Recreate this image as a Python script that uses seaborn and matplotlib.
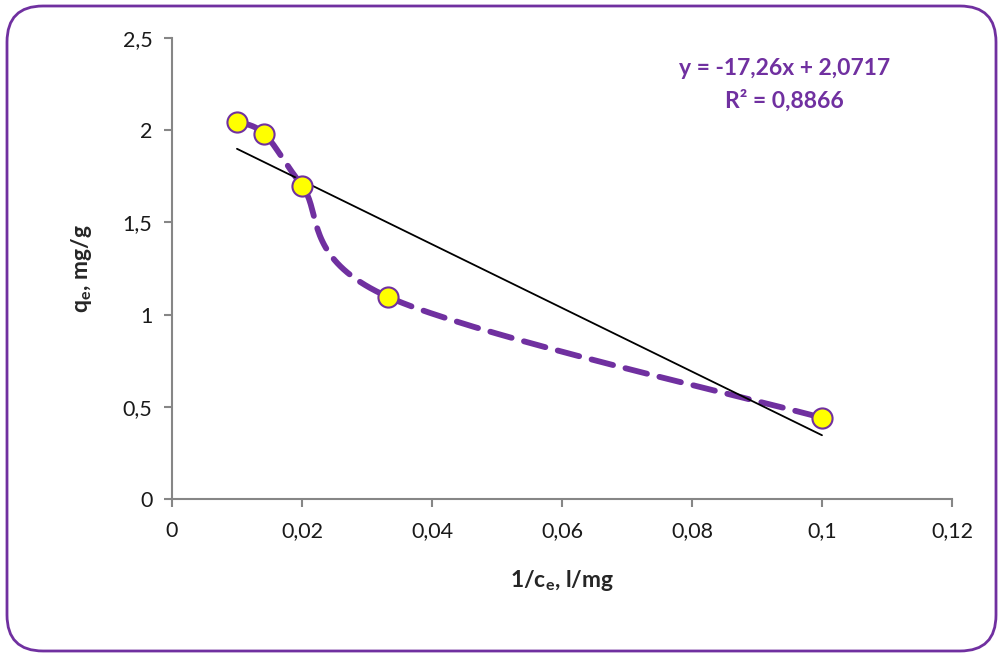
import numpy as np
import pandas as pd
import matplotlib
matplotlib.use("Agg")
import matplotlib.pyplot as plt
from matplotlib.patches import FancyBboxPatch
from matplotlib.transforms import IdentityTransform
import seaborn as sns

# data
inv_ce = [0.0100, 0.0142, 0.0200, 0.0333, 0.1000]
qe = [2.045, 1.980, 1.700, 1.095, 0.440]
slope = -17.26
intercept = 2.0717
r2 = 0.8866
x_ticks = [0, 0.02, 0.04, 0.06, 0.08, 0.1, 0.12]
y_ticks = [0, 0.5, 1, 1.5, 2, 2.5]

purple = "#7030A0"
gray = "#868686"

sns.set_style("white")
plt.rcParams['font.family'] = ['Lato', 'DejaVu Sans']
plt.rcParams['mathtext.fontset'] = 'custom'
plt.rcParams['mathtext.rm'] = 'Lato:bold'
plt.rcParams['mathtext.it'] = 'Lato:bold'
plt.rcParams['mathtext.bf'] = 'Lato:bold'


def smooth_curve(xs, ys, sx, sy, n=40):
    # Catmull-Rom style smoothing like Excel's "smoothed line"
    px = np.array(xs) / sx
    py = np.array(ys) / sy
    px = np.concatenate([[px[0]], px, [px[-1]]])
    py = np.concatenate([[py[0]], py, [py[-1]]])
    outx, outy = [], []
    for i in range(1, len(px) - 2):
        t = np.linspace(0, 1, n)
        for arr, out in ((px, outx), (py, outy)):
            p0, p1, p2, p3 = arr[i - 1], arr[i], arr[i + 1], arr[i + 2]
            v = 0.5 * ((2 * p1) + (-p0 + p2) * t
                       + (2 * p0 - 5 * p1 + 4 * p2 - p3) * t ** 2
                       + (-p0 + 3 * p1 - 3 * p2 + p3) * t ** 3)
            out.extend(v)
    return np.array(outx) * sx, np.array(outy) * sy


fig = plt.figure(figsize=(9.98, 6.55), dpi=100)
ax = fig.add_axes([0.1723, 0.2382, 0.7816, 0.7038])

# smoothed dashed line through the points
cx, cy = smooth_curve(inv_ce, qe, 0.12 / 780, 2.5 / 461)
curve = pd.DataFrame({"x": cx, "y": cy})
sns.lineplot(data=curve, x="x", y="y", sort=False, ax=ax, color=purple,
             linewidth=4.2, dashes=False, zorder=2)
ax.lines[-1].set_dashes([3.8, 2.2])
ax.lines[-1].set_dash_capstyle("round")

# linear trendline
tx = np.array([min(inv_ce), max(inv_ce)])
trend = pd.DataFrame({"x": tx, "y": slope * tx + intercept})
sns.lineplot(data=trend, x="x", y="y", ax=ax, color="black", linewidth=1.3, zorder=3)

# points
pts = pd.DataFrame({"x": inv_ce, "y": qe})
sns.scatterplot(data=pts, x="x", y="y", ax=ax, s=210, color="#FFFF00",
                edgecolor=purple, linewidth=1.5, zorder=4)

ax.set_xlim(0, 0.12)
ax.set_ylim(0, 2.5)
ax.set_xticks(x_ticks)
ax.set_yticks(y_ticks)
ax.set_xticklabels([f"{v:g}".replace(".", ",") for v in x_ticks])
ax.set_yticklabels([f"{v:g}".replace(".", ",") for v in y_ticks])
ax.tick_params(axis="both", direction="out", length=6, width=1.5, color=gray,
               labelsize=15.5, labelcolor="#1a1a1a", pad=8,
               bottom=True, left=True)
ax.tick_params(axis="x", pad=10)
for s in ["top", "right"]:
    ax.spines[s].set_visible(False)
for s in ["left", "bottom"]:
    ax.spines[s].set_color(gray)
    ax.spines[s].set_linewidth(1.5)

ax.set_xlabel(r"1/c$_{e}$, l/mg", fontsize=16.5, fontweight="bold")
ax.set_ylabel(r"q$_{e}$, mg/g", fontsize=16.5, fontweight="bold")
ax.xaxis.set_label_coords(0.5, -0.15)
ax.yaxis.set_label_coords(-0.1, 0.5)

eq = f"y = {slope:g}x + {intercept:g}".replace(".", ",")
fig.text(0.786, 0.896, eq, color=purple, fontsize=16.5, fontweight="bold",
         ha="center", va="center")
fig.text(0.786, 0.847, f"R² = {r2:g}".replace(".", ","), color=purple,
         fontsize=16.5, fontweight="bold", ha="center", va="center")

# rounded chart border
border = FancyBboxPatch((7, 4), 989, 645, boxstyle="round,pad=0,rounding_size=36",
                        transform=IdentityTransform(), facecolor="none",
                        edgecolor=purple, linewidth=2)
fig.patches.append(border)

fig.savefig("out.png", dpi=100)
